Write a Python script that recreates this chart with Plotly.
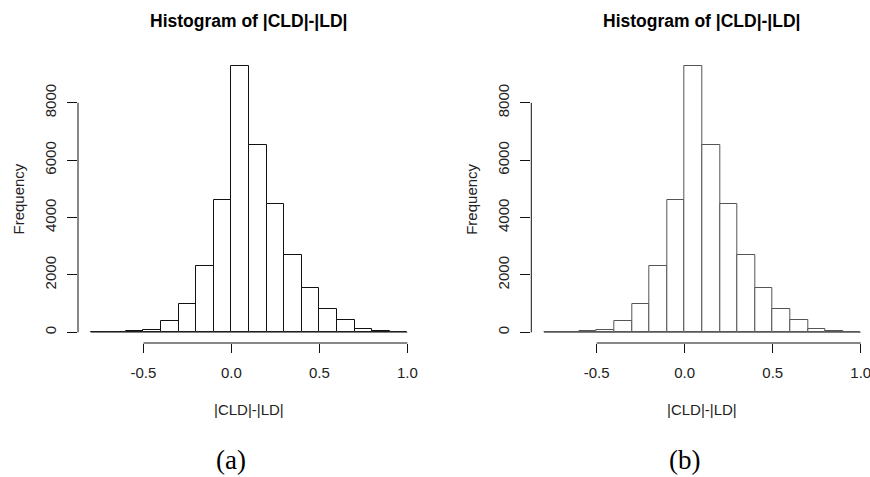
import plotly.graph_objects as go

# ---- data ----
bin_edges = [-0.8, -0.7, -0.6, -0.5, -0.4, -0.3, -0.2, -0.1, 0.0, 0.1,
             0.2, 0.3, 0.4, 0.5, 0.6, 0.7, 0.8, 0.9, 1.0]
counts = [0, 0, 30, 90, 400, 1000, 2320, 4630, 9300, 6520,
          4470, 2680, 1560, 830, 440, 130, 60, 0]
x_ticks = [-0.5, 0.0, 0.5, 1.0]
x_ticklabels = ["-0.5", "0.0", "0.5", "1.0"]
y_ticks = [0, 2000, 4000, 6000, 8000]
y_ticklabels = ["0", "2000", "4000", "6000", "8000"]
title_text = "Histogram of |CLD|-|LD|"
xlabel_text = "|CLD|-|LD|"
ylabel_text = "Frequency"
captions = ["(a)", "(b)"]

W, H = 870, 477
SANS = "Liberation Sans, Arial, sans-serif"
SERIF = "Liberation Serif, Times New Roman, serif"
FS = 15

centers = [(a + b) / 2 for a, b in zip(bin_edges[:-1], bin_edges[1:])]
widths = [b - a for a, b in zip(bin_edges[:-1], bin_edges[1:])]

# panel pixel geometry: (left px, right px, x range)
panels = [
    dict(x0=78.0, x1=420.0, xr=[-0.872, 1.072], col="#111111"),
    dict(x0=531.3, x1=870.0, xr=[-0.8716, 1.0528], col="#555555"),
]
top_px, bot_px = 55.0, 343.0
y_range = [-372, 9667]

fig = go.Figure()
for i, p in enumerate(panels):
    xa = "x" if i == 0 else "x2"
    ya = "y" if i == 0 else "y2"
    fig.add_trace(go.Bar(
        x=centers, y=counts, width=widths,
        marker=dict(color="white", line=dict(color=p["col"], width=1)),
        xaxis=xa, yaxis=ya, showlegend=False, hoverinfo="x+y",
    ))
    fig.add_trace(go.Scatter(
        x=[bin_edges[0], bin_edges[-1]], y=[0, 0], mode="lines",
        line=dict(color="#666666", width=1),
        xaxis=xa, yaxis=ya, showlegend=False, hoverinfo="skip",
    ))

layout = dict(
    width=W, height=H, autosize=False,
    margin=dict(l=0, r=0, t=0, b=0, pad=0),
    paper_bgcolor="white", plot_bgcolor="white",
    bargap=0, showlegend=False,
    font=dict(family=SANS, size=FS, color="#222222"),
)
shapes = []
annotations = []
for i, p in enumerate(panels):
    sx = "" if i == 0 else "2"
    xdom = [p["x0"] / W, min(p["x1"] / W, 1.0)]
    ydom = [(H - bot_px) / H, (H - top_px) / H]
    layout["xaxis" + sx] = dict(
        domain=xdom, range=p["xr"], anchor="y" + sx,
        tickvals=x_ticks, ticktext=x_ticklabels,
        ticks="outside", ticklen=9, tickwidth=1, tickcolor="#111111",
        ticklabelstandoff=7, ticklabeloverflow="allow",
        showline=False, showgrid=False, zeroline=False,
        tickfont=dict(family=SANS, size=FS, color="#222222"),
        fixedrange=True,
    )
    layout["yaxis" + sx] = dict(
        domain=ydom, range=y_range, anchor="x" + sx,
        tickvals=y_ticks, ticktext=y_ticklabels, tickangle=-90,
        ticks="outside", ticklen=10, tickwidth=1, tickcolor="#111111",
        ticklabelstandoff=5, ticklabeloverflow="allow",
        showline=False, showgrid=False, zeroline=False,
        tickfont=dict(family=SANS, size=FS, color="#222222"),
        fixedrange=True,
    )
    # R-style axis lines spanning first..last tick
    shapes.append(dict(type="line", xref="x" + sx, yref="y" + sx + " domain",
                       x0=x_ticks[0], x1=x_ticks[-1], y0=0, y1=0,
                       line=dict(color="#111111", width=1)))
    shapes.append(dict(type="line", xref="x" + sx + " domain", yref="y" + sx,
                       x0=0, x1=0, y0=y_ticks[0], y1=y_ticks[-1],
                       line=dict(color="#111111", width=1)))
    cx = p["x0"] + (420.0 - 78.0) / 2
    annotations.append(dict(text="<b>" + title_text + "</b>", xref="paper", yref="paper",
                            x=cx / W, y=1 - 20.5 / H, xanchor="center", yanchor="middle",
                            showarrow=False, font=dict(family=SANS, size=17.5, color="#000000")))
    annotations.append(dict(text=xlabel_text, xref="paper", yref="paper",
                            x=cx / W, y=1 - 409 / H, xanchor="center", yanchor="middle",
                            showarrow=False, font=dict(family=SANS, size=FS, color="#222222")))
    annotations.append(dict(text=ylabel_text, xref="paper", yref="paper",
                            x=(p["x0"] - 60.5) / W, y=1 - 199 / H, xanchor="center", yanchor="middle",
                            textangle=-90, showarrow=False,
                            font=dict(family=SANS, size=FS, color="#222222")))
    zero_px = p["x0"] + (0 - p["xr"][0]) / (p["xr"][1] - p["xr"][0]) * (min(p["x1"], W) - p["x0"])
    annotations.append(dict(text=captions[i], xref="paper", yref="paper",
                            x=zero_px / W, y=1 - 460 / H, xanchor="center", yanchor="middle",
                            showarrow=False, font=dict(family=SERIF, size=27, color="#000000")))

layout["shapes"] = shapes
layout["annotations"] = annotations
fig.update_layout(**layout)
fig.write_html("out.html")
